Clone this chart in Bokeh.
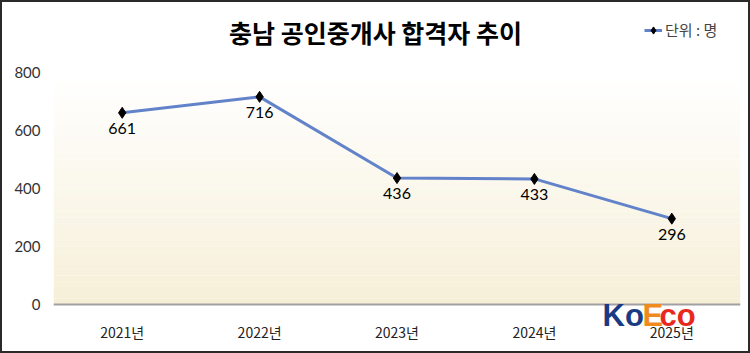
from bokeh.plotting import figure
from bokeh.models import (ColumnDataSource, FactorRange, Range1d, LabelSet, Label,
                          BoxAnnotation, Legend, LegendItem, FixedTicker, Span)
from bokeh.core.properties import value
from bokeh.embed import file_html
from bokeh.resources import INLINE

# ---- data ----
years = ["2021년", "2022년", "2023년", "2024년", "2025년"]
passers = [661, 716, 436, 433, 296]
labels = [str(v) for v in passers]
y_ticks = [0, 200, 400, 600, 800]
title_text = "충남 공인중개사 합격자 추이"
unit_text = "단위 : 명"

src = ColumnDataSource(dict(x=years, y=passers, lab=labels))
cat_src = ColumnDataSource(dict(x=years, y=[0] * len(years), lab=years))

# layout: frame covers the full canvas height; value 0 at canvas row 302, 800 at row 70
H = 353
row0, row800 = 302, 70
px_per_unit = (row0 - row800) / 800
y_top = 800 + row800 / px_per_unit
y_bot = -(H - row0) / px_per_unit

p = figure(width=750, height=H, x_range=FactorRange(*years), y_range=Range1d(y_bot, y_top),
           output_backend="svg", toolbar_location=None,
           min_border_left=51, min_border_right=12, min_border_top=0, min_border_bottom=0)
p.styles = {"border": "2px solid #2a2a2a", "box-sizing": "border-box"}
p.background_fill_color = "white"
p.border_fill_color = "white"
p.outline_line_color = None
p.grid.grid_line_color = None
p.xaxis.visible = False

# gradient background (white -> light beige) over the value area
n = 40
top_c = (255, 255, 255)
bot_c = (246, 239, 216)
for i in range(n):
    f = i / (n - 1)
    c = tuple(int(round(top_c[k] + (bot_c[k] - top_c[k]) * f)) for k in range(3))
    p.add_layout(BoxAnnotation(top=800 - 800 * i / n, bottom=800 - 800 * (i + 1) / n,
                               fill_color="#%02x%02x%02x" % c, fill_alpha=1,
                               line_color=None, level="underlay"))

# category axis line and labels
p.add_layout(Span(location=0, dimension="width", line_color="#a0a0a0", line_width=2))
p.add_layout(LabelSet(x="x", y="y", text="lab", source=cat_src, y_offset=-27,
                      text_align="center", text_baseline="middle",
                      text_font=value("Noto Sans CJK KR"), text_font_size="14px",
                      text_color="#222222"))

line = p.line("x", "y", source=src, line_color="#6283c9", line_width=3)
pts = p.scatter("x", "y", source=src, marker="diamond", size=11, color="black")

p.add_layout(LabelSet(x="x", y="y", text="lab", source=src, y_offset=-10,
                      text_align="center", text_baseline="top",
                      text_font=value("Lato"), text_font_size="16px", text_color="black"))

# value axis
p.yaxis.ticker = FixedTicker(ticks=y_ticks)
p.yaxis.axis_line_color = None
p.yaxis.major_tick_line_color = None
p.yaxis.minor_tick_line_color = None
p.yaxis.major_label_text_font = "Lato"
p.yaxis.major_label_text_font_size = "15px"
p.yaxis.major_label_text_color = "#333333"
p.yaxis.major_label_standoff = 7

# title (screen units are relative to the frame's bottom-left corner)
p.add_layout(Label(x=322, y=H - 29, x_units="screen", y_units="screen", text=title_text,
                   text_align="center", text_baseline="middle",
                   text_font="Noto Sans CJK KR", text_font_style="bold",
                   text_font_size="25px", text_color="#000000"))

# legend
leg = Legend(items=[LegendItem(label=unit_text, renderers=[line, pts])],
             location=(591, 315), border_line_color=None, background_fill_alpha=0,
             label_text_font="Noto Sans CJK KR", label_text_font_size="15px",
             glyph_width=18, label_standoff=3, padding=0, margin=0)
p.add_layout(leg, "center")

# watermark logo
for txt, xx, col in [("Ko", 549, "#1b3a84"), ("E", 589, "#f08a1c"), ("co", 606, "#e8281e")]:
    p.add_layout(Label(x=xx, y=H - 330, x_units="screen", y_units="screen", text=txt,
                       text_font="Liberation Sans", text_font_style="bold",
                       text_font_size="31px", text_color=col))

open("out.html", "w").write(file_html(p, INLINE))
